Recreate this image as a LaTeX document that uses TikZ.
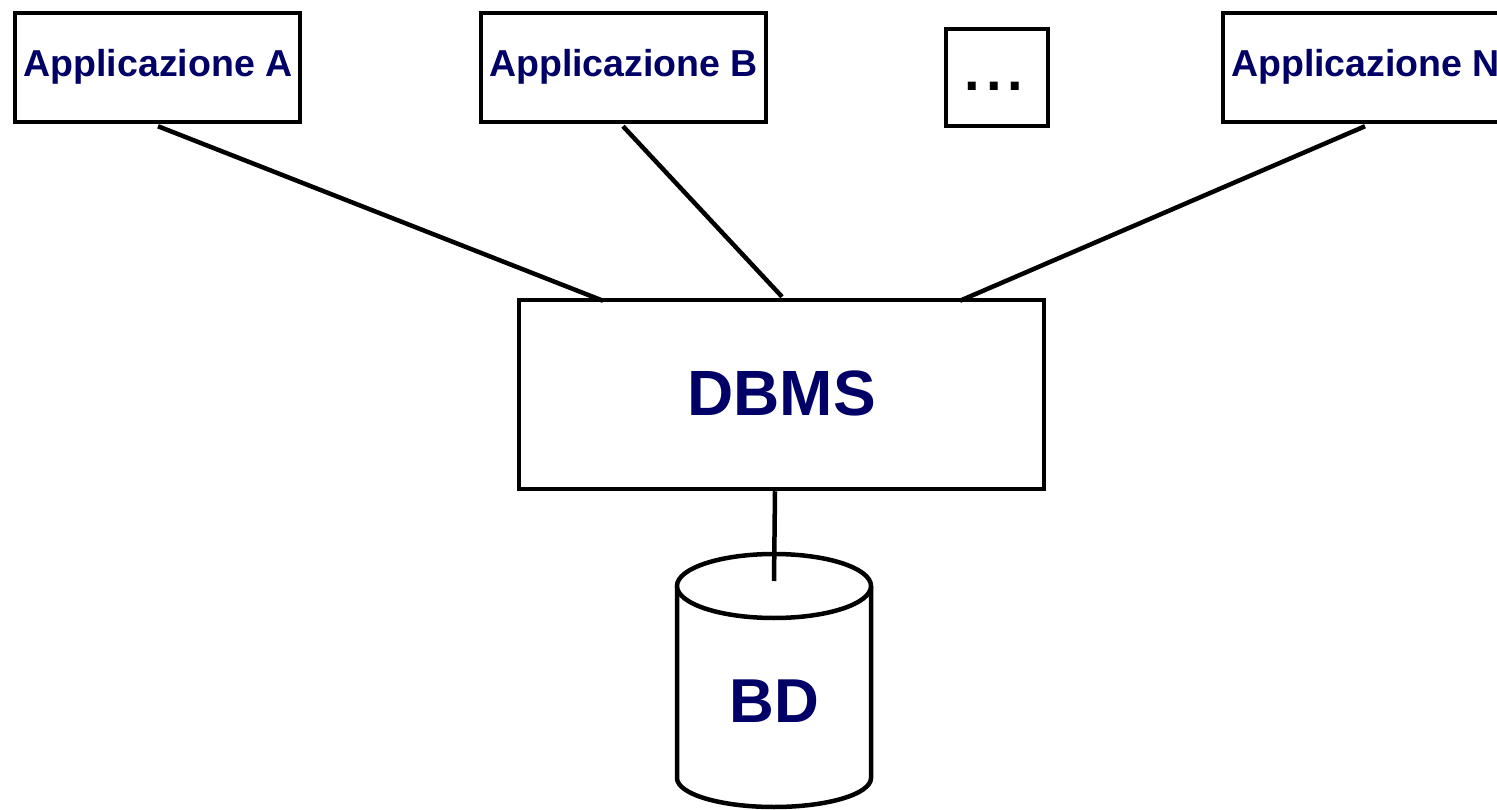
\documentclass[tikz,border=0pt]{standalone}
\usepackage{fontspec}
\setmainfont{Liberation Sans}
\definecolor{navy}{RGB}{0,0,102}
\begin{document}
\begin{tikzpicture}[x=1pt,y=-1pt,
  box/.style={draw=black,line width=4.5pt,fill=white,inner sep=0pt},
  lbl/.style={inner sep=0pt,anchor=base,text=navy,font=\bfseries\fontsize{37.5}{40}\selectfont},
  big/.style={inner sep=0pt,anchor=base,text=navy,font=\bfseries\fontsize{64}{70}\selectfont},
  conn/.style={line width=4.5pt}]
\useasboundingbox (0,0) rectangle (1497,810);
\clip (0,0) rectangle (1497,810);
% application boxes
\node[box,minimum width=285pt,minimum height=109pt] (A) at (157.5,67.5) {};
\node[box,minimum width=285pt,minimum height=109pt] (B) at (623.5,67.5) {};
\node[box,minimum width=102pt,minimum height=97pt] (E) at (997,77.5) {};
\node[box,minimum width=285pt,minimum height=109pt] (N) at (1365.5,67.5) {};
\node[lbl] (tA) at (158,77) {Applicazione A};
\node[lbl] (tB) at (623.5,77) {Applicazione B};
\node[lbl] (tN) at (1365.5,77) {Applicazione N};
\node[inner sep=0pt,anchor=base,font=\bfseries\fontsize{56}{60}\selectfont] (tE) at (994,91) {.\kern6pt.\kern6pt.};
% DBMS
\node[box,minimum width=525pt,minimum height=189pt] (D) at (781.5,394.5) {};
\node[big] (tD) at (781.5,415) {DBMS};
% connectors
\draw[conn] ([xshift=0.5pt,yshift=-2pt]A.south) -- ([xshift=-178.5pt,yshift=-3pt]D.north);
\draw[conn] ([xshift=-0.5pt,yshift=-2pt]B.south) -- ([xshift=0.5pt,yshift=1pt]D.north);
\draw[conn] ([xshift=-0.5pt,yshift=-2pt]N.south) -- ([xshift=178.5pt,yshift=-3pt]D.north);
% cylinder BD
\draw[line width=4.5pt,fill=white] (677,586) -- (677,778) arc[start angle=180,end angle=0,x radius=97,y radius=29] -- (871,586);
\draw[line width=4.5pt,fill=white] (774,586) ellipse[x radius=97,y radius=32];
\coordinate (cyl) at (774,581);
\node[big,font=\bfseries\fontsize{62}{66}\selectfont] (tBD) at (774.5,722) {BD};
\draw[conn] ([xshift=-6.5pt]D.south) -- (cyl);
\end{tikzpicture}
\end{document}
